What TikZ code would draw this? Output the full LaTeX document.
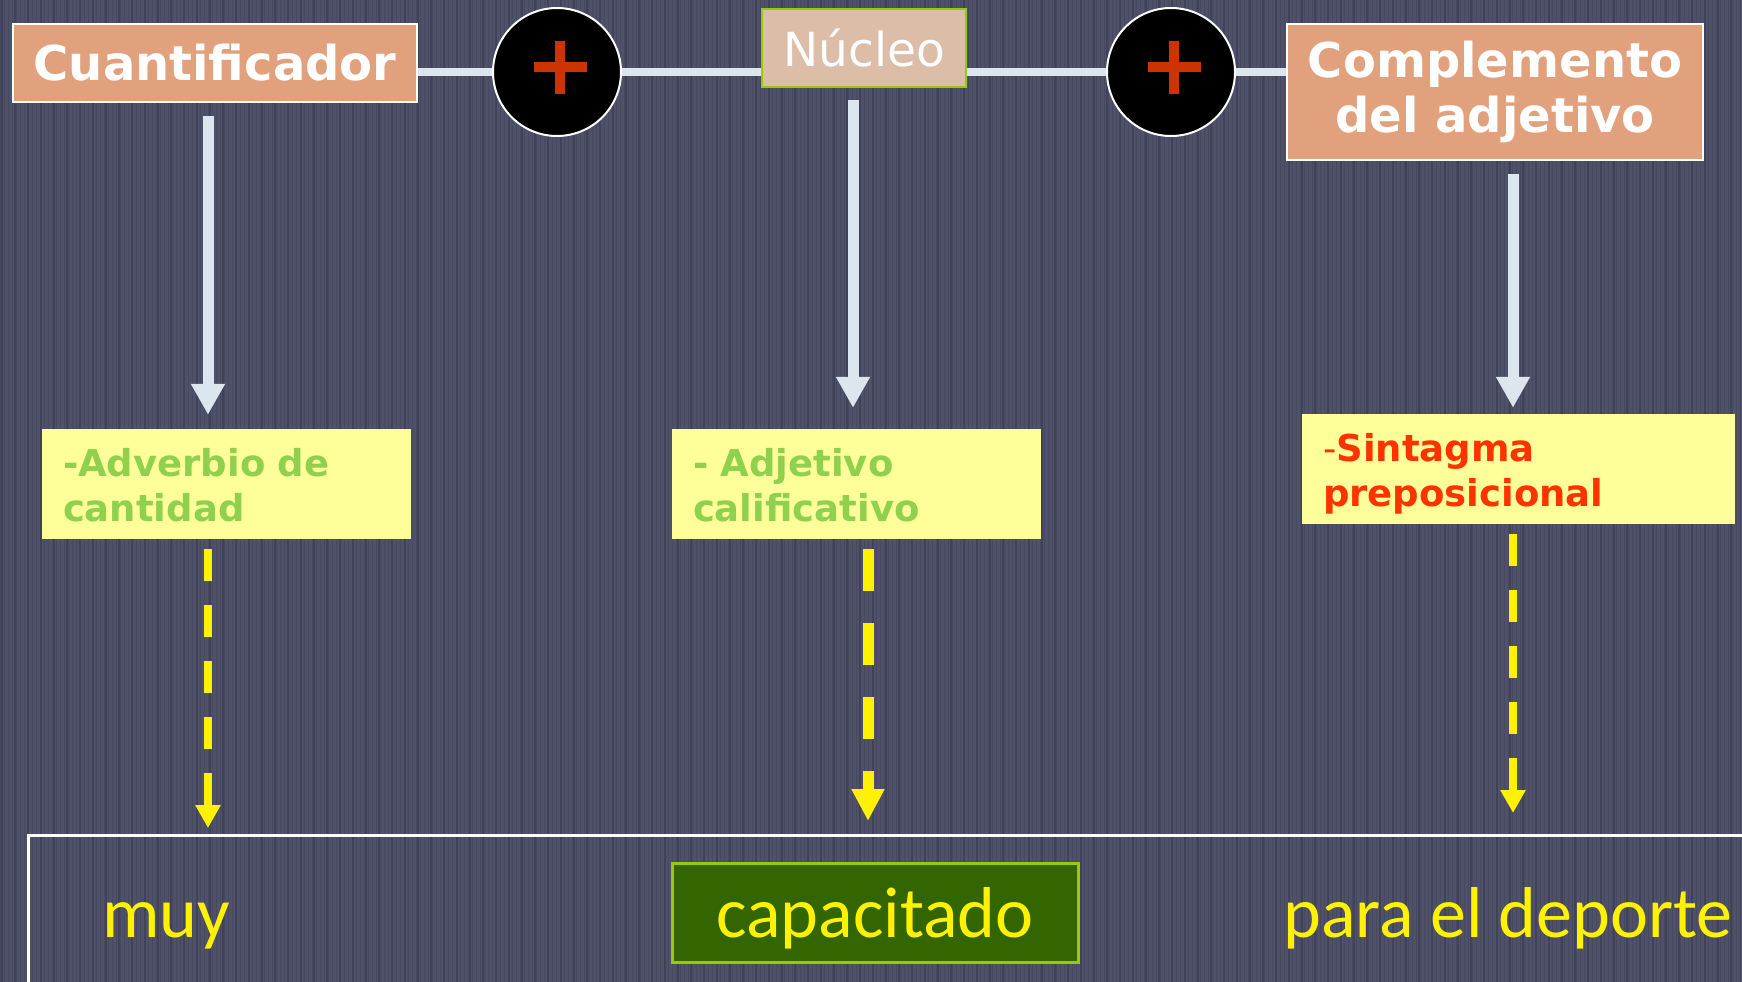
\documentclass[tikz,border=0pt]{standalone}
\usepackage{fontspec}
\setmainfont{DejaVu Sans}
\newfontfamily\handfont{Carlito}
\usetikzlibrary{arrows.meta,calc}

\definecolor{fondo}{HTML}{4F5168}
\definecolor{raya}{HTML}{40425A}
\definecolor{salmon}{HTML}{E2A17D}
\definecolor{piel}{HTML}{DCBEA8}
\definecolor{lima}{HTML}{99CC00}
\definecolor{claro}{HTML}{DCE6EE}
\definecolor{crema}{HTML}{FFFF99}
\definecolor{verdetxt}{HTML}{8FD14F}
\definecolor{rojo}{HTML}{FF3300}
\definecolor{cruz}{HTML}{CC3300}
\definecolor{musgo}{HTML}{336600}

\begin{document}
\begin{tikzpicture}[x=1pt,y=-1pt,
    titulo/.style={draw=white,line width=2pt,fill=salmon,text=white,inner sep=0pt,align=center,font=\fontsize{48}{55}\selectfont\bfseries},
    mas/.style={circle,draw=white,line width=2pt,fill=black,minimum size=128pt,inner sep=0pt},
    union/.style={claro,line width=7pt},
    baja/.style={claro,line width=11pt,-{Triangle[length=31pt,width=32pt]}},
    caja/.style={fill=crema,inner xsep=21pt,inner ysep=19pt,text height=28pt,text depth=44pt,align=left,font=\fontsize{37}{45}\selectfont\bfseries},
    puntos/.style={yellow,line width=8pt,dash pattern=on 32pt off 24pt,-{Triangle[length=23pt,width=24pt]}},
    palabra/.style={text=yellow,anchor=base,font=\fontsize{72}{80}\selectfont\handfont}]
        \useasboundingbox (0,0) rectangle (1742,982);
        \fill[fondo] (0,0) rectangle (1742,982);
        \foreach \x in {0,4,...,1740}
          \draw[raya!50!fondo,line width=1pt] (\x,0) -- (\x,982);
        \foreach \x in {2,15,...,1742}
          \draw[raya,line width=1.5pt] (\x,0) -- (\x,982);

        \node[titulo,minimum width=404pt,minimum height=78pt] (cuant) at (215,63) {Cuantificador};
        \node[mas] (masA) at (557,72) {};
        \node[draw=lima,line width=2.5pt,fill=piel,text=white,inner sep=0pt,minimum width=204pt,minimum height=78pt,font=\fontsize{47}{50}\selectfont] (nucleo) at (864,48) {Núcleo};
        \node[mas] (masB) at (1171,72) {};
        \node[titulo,minimum width=416pt,minimum height=136pt] (compl) at (1495,92) {Complemento\\del adjetivo};

        \draw[union] (cuant.east |- masA) -- (masA.west);
        \draw[union] (masA.east) -- (masA -| nucleo.west);
        \draw[union] (nucleo.east |- masB) -- (masB.west);
        \draw[union] (masB.east) -- (masB -| compl.west);

        \foreach \m in {masA,masB} {
          \draw[cruz,line width=10pt] ($(\m)+(-23,-5)$) -- ++(53,0);
          \draw[cruz,line width=10pt] ($(\m)+(3,-31)$) -- ++(0,53);
        }

        \node[caja,text=verdetxt,text width=327pt] (adv) at (226.5,484) {-Adverbio de\\cantidad};
        \node[caja,text=verdetxt,text width=327pt] (adj) at (856.5,484) {- Adjetivo\\calificativo};
        \node[caja,text=rojo,text width=391pt] (sprep) at (1518.5,469) {{\mdseries -}Sintagma\\preposicional};

        \draw[baja] ($(cuant.south)+(-7,13)$) -- ($(adv.north)+(-18.5,-14)$);
        \draw[baja] ($(nucleo.south)+(-11,12)$) -- ($(adj.north)+(-3.5,-21)$);
        \draw[baja] ($(compl.south)+(18,13)$) -- ($(sprep.north)+(-5.5,-6)$);

        \node[draw=white,line width=2.5pt,anchor=north west,minimum width=1760pt,minimum height=200pt] (marco) at (27,834) {};

        \draw[puntos] ($(adv.south)+(-18.5,10)$) -- ($(adv.south |- marco.north)+(-18.5,-6)$);
        \draw[puntos,line width=11pt,dash pattern=on 42pt off 32pt,-{Triangle[length=32pt,width=31pt]}] ($(adj.south)+(11.5,10)$) -- ($(adj.south |- marco.north)+(11.5,-13)$);
        \draw[puntos] ($(sprep.south)+(-5.5,10)$) -- ($(sprep.south |- marco.north)+(-5.5,-21)$);

        \node[palabra] (muy) at (166,937) {muy};
        \node[fill=musgo,draw=lima,line width=3pt,inner sep=0pt,minimum width=406pt,minimum height=99pt,text=yellow,text height=49pt,text depth=0pt,font=\fontsize{72}{80}\selectfont\handfont] (capac) at (875,912.5) {capacitado};
        \node[palabra] (depor) at (1508,937) {para el deporte};
      \end{tikzpicture}
\end{document}
